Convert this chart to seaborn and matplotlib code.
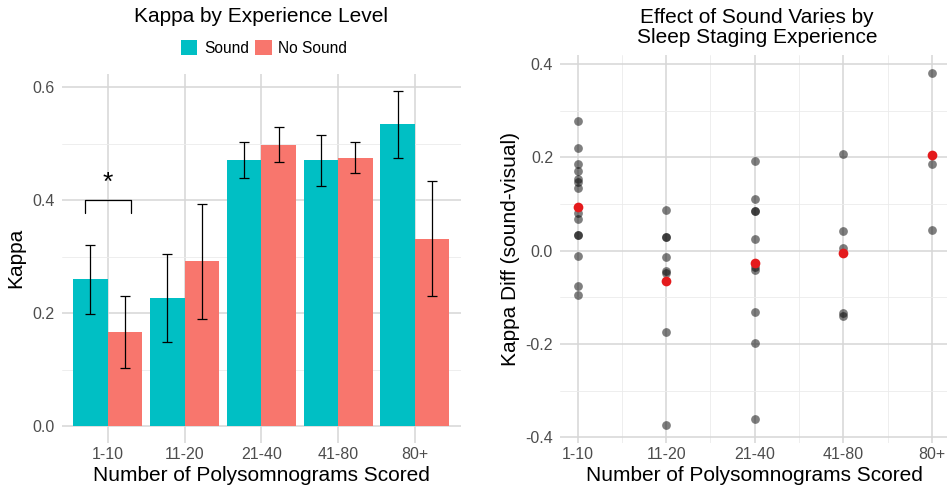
import numpy as np
import pandas as pd
import seaborn as sns
import matplotlib.pyplot as plt
from matplotlib.ticker import MultipleLocator

# ---- data ----
experience = ["1-10", "11-20", "21-40", "41-80", "80+"]
conditions = ["Sound", "No Sound"]

kappa_sound = [0.260, 0.227, 0.471, 0.471, 0.535]
kappa_sound_lo = [0.199, 0.148, 0.439, 0.425, 0.475]
kappa_sound_hi = [0.320, 0.305, 0.503, 0.515, 0.594]

kappa_nosound = [0.167, 0.292, 0.498, 0.475, 0.331]
kappa_nosound_lo = [0.103, 0.190, 0.468, 0.448, 0.230]
kappa_nosound_hi = [0.230, 0.394, 0.529, 0.503, 0.434]

# per-scorer kappa difference (sound - visual)
diff_1_10 = [0.279, 0.221, 0.186, 0.170, 0.153, 0.147, 0.135, 0.080,
             0.067, 0.034, 0.034, -0.012, -0.075, -0.096]
diff_11_20 = [0.087, 0.029, 0.029, -0.014, -0.043, -0.048, -0.174, -0.374]
diff_21_40 = [0.192, 0.110, 0.085, 0.085, 0.025, -0.034, -0.041,
              -0.132, -0.198, -0.360]
diff_41_80 = [0.207, 0.042, 0.006, -0.134, -0.140]
diff_80_plus = [0.382, 0.187, 0.045]
diff_means = [0.094, -0.064, -0.027, -0.004, 0.205]

TEAL = "#00BFC4"
SALMON = "#F8766D"
GRID_MAJOR = "#D6D6D6"
GRID_MINOR = "#EBEBEB"
TICK_COL = "#4D4D4D"

sns.set_theme(style="white")
plt.rcParams["font.family"] = ["Liberation Sans", "DejaVu Sans"]
plt.rcParams["text.color"] = "black"
plt.rcParams["axes.labelcolor"] = "black"


def style_axis(ax):
    for s in ax.spines.values():
        s.set_visible(False)
    ax.tick_params(which="both", length=0, labelsize=11.5,
                   labelcolor=TICK_COL)
    ax.tick_params(axis="y", pad=5)
    ax.tick_params(axis="x", pad=3)
    ax.set_axisbelow(True)


fig = plt.figure(figsize=(9.47, 4.91), dpi=100)
W, H = 947, 491

# ---------------- left: bar chart ----------------
ax1 = fig.add_axes([61.7 / W, 1 - 442.7 / H, (461 - 61.7) / W, (442.7 - 74) / H])

bars = pd.DataFrame({
    "experience": experience * 2,
    "condition": ["Sound"] * 5 + ["No Sound"] * 5,
    "kappa": kappa_sound + kappa_nosound,
})
sns.barplot(data=bars, x="experience", y="kappa", hue="condition",
            order=experience, hue_order=conditions,
            palette=[TEAL, SALMON], width=0.9, errorbar=None,
            linewidth=0, saturation=1, ax=ax1)

err_lo = [kappa_sound_lo, kappa_nosound_lo]
err_hi = [kappa_sound_hi, kappa_nosound_hi]
for cont, lo, hi in zip(ax1.containers, err_lo, err_hi):
    xs = [p.get_x() + p.get_width() / 2 for p in cont.patches]
    hs = np.array([p.get_height() for p in cont.patches])
    ax1.errorbar(xs, hs, yerr=[hs - np.array(lo), np.array(hi) - hs],
                 fmt="none", ecolor="black", elinewidth=0.9,
                 capsize=3.5, capthick=0.9, zorder=3)

# significance bracket over 1-10
sig_y, sig_drop = 0.40, 0.023
ax1.plot([-0.3, -0.3, 0.3, 0.3],
         [sig_y - sig_drop, sig_y, sig_y, sig_y - sig_drop],
         color="black", lw=0.9, zorder=3)
ax1.text(0, sig_y + 0.031, "*", ha="center", va="center", fontsize=19)

ax1.set_xlim(-0.6, 4.6)
ax1.set_ylim(-0.0297, 0.6237)
ax1.yaxis.set_minor_locator(MultipleLocator(0.1))
ax1.set_yticks([0.0, 0.2, 0.4, 0.6], ["0.0", "0.2", "0.4", "0.6"])
ax1.grid(which="major", color=GRID_MAJOR, lw=1.1)
ax1.grid(which="minor", axis="y", color=GRID_MINOR, lw=0.6)
style_axis(ax1)
ax1.set_xlabel("Number of Polysomnograms Scored", fontsize=15, labelpad=3)
ax1.set_ylabel("Kappa", fontsize=15, labelpad=5)

sns.move_legend(ax1, "center", bbox_to_anchor=(264 / W, 1 - 48 / H),
                bbox_transform=fig.transFigure, ncol=2, title=None,
                frameon=False, fontsize=11.2, handlelength=1.07,
                handleheight=1.07, handletextpad=0.42, columnspacing=0.4)

fig.text(261.4 / W, 1 - 17 / H, "Kappa by Experience Level",
         ha="center", va="center", fontsize=15)

# ---------------- right: strip of differences ----------------
ax2 = fig.add_axes([560 / W, 1 - 442.7 / H, (949.5 - 560) / W, (442.7 - 55) / H])

groups = [diff_1_10, diff_11_20, diff_21_40, diff_41_80, diff_80_plus]
pts = pd.DataFrame({
    "experience": np.repeat(experience, [len(g) for g in groups]),
    "diff": np.concatenate(groups),
})
means = pd.DataFrame({"experience": experience, "diff": diff_means})

sns.stripplot(data=pts, x="experience", y="diff", order=experience,
              jitter=False, color="black", alpha=0.5, size=6.3,
              linewidth=0, ax=ax2, zorder=3)
sns.stripplot(data=means, x="experience", y="diff", order=experience,
              jitter=False, color="#E41A1C", size=7, linewidth=0,
              ax=ax2, zorder=4)

ax2.set_xlim(-0.2, 4.2)
ax2.set_ylim(-0.4118, 0.4198)
ax2.xaxis.set_minor_locator(MultipleLocator(0.5))
ax2.yaxis.set_minor_locator(MultipleLocator(0.1))
ax2.set_yticks([-0.4, -0.2, 0.0, 0.2, 0.4], ["-0.4", "-0.2", "0.0", "0.2", "0.4"])
ax2.grid(which="major", color=GRID_MAJOR, lw=1.1)
ax2.grid(which="minor", color=GRID_MINOR, lw=0.6)
style_axis(ax2)
ax2.set_xlabel("Number of Polysomnograms Scored", fontsize=15, labelpad=3)
ax2.set_ylabel("Kappa Diff (sound-visual)", fontsize=15, labelpad=4)

fig.text(757 / W, 1 - 27.5 / H,
         "Effect of Sound Varies by\nSleep Staging Experience",
         ha="center", va="center", fontsize=15, linespacing=1.1)

fig.savefig("out.png", dpi=100)
